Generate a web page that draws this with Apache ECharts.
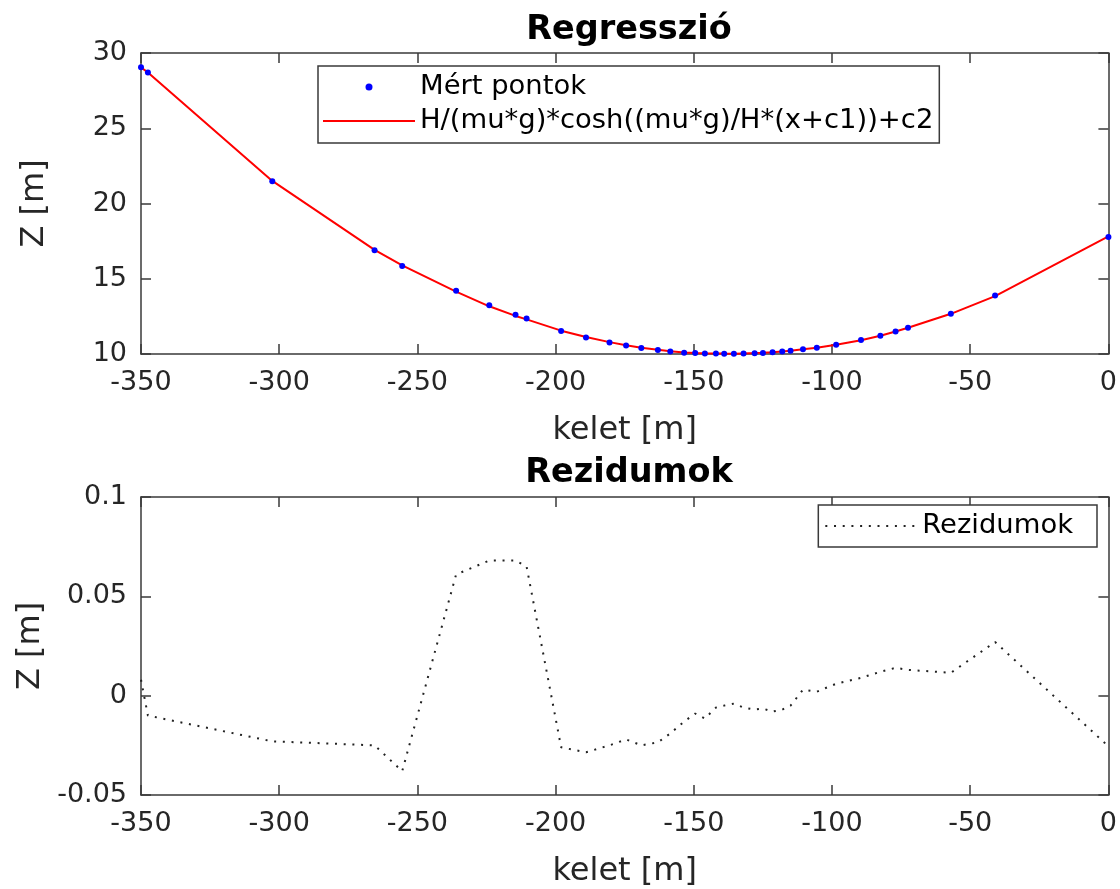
<!DOCTYPE html>
<html>
<head>
<meta charset="utf-8">
<script src="https://cdn.jsdelivr.net/npm/echarts@6/dist/echarts.min.js"></script>
<style>
  html, body { margin: 0; padding: 0; background: #fff; }
  #chart { width: 1120px; height: 889px; }
</style>
</head>
<body>
<div id="chart"></div>
<script>
// kelet [m] of the measured points
const kelet = [-350, -347.5, -302.5, -265.5, -255.5, -236, -224, -214.5, -210.5, -198,
  -189, -180.5, -174.5, -169, -163, -158.5, -153.5, -149.5, -146, -142,
  -139, -135.5, -132, -128, -125, -121.5, -118, -115, -110.5, -105.5,
  -98.5, -89.5, -82.5, -77, -72.5, -57, -41, 0]

// Z [m] measured
const zMert = [29.05, 28.7, 21.48, 16.9, 15.85, 14.2, 13.24, 12.6, 12.36, 11.52,
  11.1, 10.76, 10.56, 10.4, 10.27, 10.16, 10.09, 10.06, 10.04, 10.03,
  10.02, 10.02, 10.03, 10.05, 10.07, 10.11, 10.16, 10.22, 10.31, 10.42,
  10.62, 10.93, 11.22, 11.5, 11.75, 12.68, 13.88, 17.78]

// Z [m] of the fitted catenary
const zFit = [29.04, 28.71, 21.5, 16.92, 15.89, 14.14, 13.17, 12.53, 12.3, 11.55,
  11.13, 10.79, 10.58, 10.42, 10.29, 10.18, 10.1, 10.07, 10.05, 10.04,
  10.03, 10.02, 10.04, 10.06, 10.08, 10.12, 10.17, 10.22, 10.31, 10.42,
  10.61, 10.92, 11.21, 11.49, 11.74, 12.67, 13.85, 17.81]

// residuals [m]
const rezidum = [0.008, -0.01, -0.023, -0.025, -0.038, 0.061, 0.068, 0.068, 0.065, -0.026,
  -0.0285, -0.025, -0.022, -0.025, -0.0235, -0.019, -0.013, -0.009, -0.0115, -0.006,
  -0.005, -0.004, -0.006, -0.007, -0.0065, -0.008, -0.007, -0.005, 0.003, 0.002,
  0.006, 0.009, 0.012, 0.014, 0.013, 0.0115, 0.027, -0.0255]

const fitName = 'H/(mu*g)*cosh((mu*g)/H*(x+c1))+c2'
const font = 'DejaVu Sans'
const ink = '#262626'
const axisCol = '#3a3a3a'
const noDot = { color: 'rgba(0,0,0,0)', borderWidth: 0 }

const pairs = (xs, ys) => xs.map((x, i) => [x, ys[i]])

const tickIn = { show: true, inside: true, length: 10, lineStyle: { color: axisCol, width: 1.5 } }
const line = { show: true, onZero: false, lineStyle: { color: axisCol, width: 1.5 } }

function xAx(grid, bottom) {
  return {
    type: 'value', gridIndex: grid, position: bottom ? 'bottom' : 'top',
    min: -350, max: 0, interval: 50,
    axisLine: line, axisTick: tickIn, splitLine: { show: false },
    axisLabel: bottom ? { color: ink, fontFamily: font, fontSize: 27, margin: 15 } : { show: false },
    name: bottom ? 'kelet [m]' : '', nameLocation: 'middle', nameGap: 61,
    nameTextStyle: { color: ink, fontFamily: font, fontSize: 32 },
  }
}

function yAx(grid, left, min, max, interval) {
  return {
    type: 'value', gridIndex: grid, position: left ? 'left' : 'right',
    min, max, interval,
    axisLine: line, axisTick: tickIn, splitLine: { show: false },
    axisLabel: left ? { color: ink, fontFamily: font, fontSize: 27, margin: 14 } : { show: false },
    name: left ? 'Z [m]' : '', nameLocation: 'middle', nameGap: 90,
    nameTextStyle: { color: ink, fontFamily: font, fontSize: 32 },
  }
}

const titleStyle = { fontFamily: font, fontSize: 33.5, fontWeight: 'bold', color: '#000' }
const legendText = { fontFamily: font, fontSize: 27.4, color: '#000', lineHeight: 30 }

const option = {
  animation: false,
  backgroundColor: '#fff',
  title: [
    { text: 'Regresszió', left: 624, textAlign: 'center', top: 8, textStyle: titleStyle },
    { text: 'Rezidumok', left: 624, textAlign: 'center', top: 451, textStyle: titleStyle },
  ],
  grid: [
    { left: 141, right: 11, top: 53, height: 301 },
    { left: 141, right: 11, top: 497, height: 302 },
  ],
  xAxis: [xAx(0, true), xAx(0, false), xAx(1, true), xAx(1, false)],
  yAxis: [yAx(0, true, 10, 30, 5), yAx(0, false, 10, 30, 5),
    yAx(1, true, -0.05, 0.1, 0.05), yAx(1, false, -0.05, 0.1, 0.05)],
  legend: [
    {
      orient: 'vertical', left: 318, top: 66,
      data: [{ name: 'Mért pontok', icon: 'circle' }, { name: fitName, itemStyle: noDot }],
      itemWidth: 92, itemHeight: 7, itemGap: 4,
      padding: [6, 6, 7, 4],
      borderColor: axisCol, borderWidth: 1.5, backgroundColor: '#fff',
      textStyle: legendText,
    },
    {
      orient: 'vertical', right: 23, top: 505,
      data: [{ name: 'Rezidumok', itemStyle: noDot }],
      itemWidth: 92, itemHeight: 7,
      padding: [6, 24, 6, 6],
      borderColor: axisCol, borderWidth: 1.5, backgroundColor: '#fff',
      textStyle: legendText,
    },
  ],
  series: [
    {
      name: fitName, type: 'line', xAxisIndex: 0, yAxisIndex: 0,
      data: pairs(kelet, zFit), showSymbol: false, symbol: 'none',
      lineStyle: { color: '#ff0000', width: 2 }, itemStyle: { color: '#ff0000' }, z: 2,
    },
    {
      name: 'Mért pontok', type: 'scatter', xAxisIndex: 0, yAxisIndex: 0,
      data: pairs(kelet, zMert), symbolSize: 6,
      itemStyle: { color: '#0000ff', opacity: 1 }, z: 3,
    },
    {
      name: 'Rezidumok', type: 'line', xAxisIndex: 2, yAxisIndex: 2,
      data: pairs(kelet, rezidum), showSymbol: false, symbol: 'none',
      lineStyle: { color: '#222', width: 2, type: [2, 6.7] }, itemStyle: { color: '#222' },
    },
  ],
}

const chart = echarts.init(document.getElementById('chart'), null, { renderer: 'canvas' })
chart.setOption(option)
</script>
</body>
</html>
